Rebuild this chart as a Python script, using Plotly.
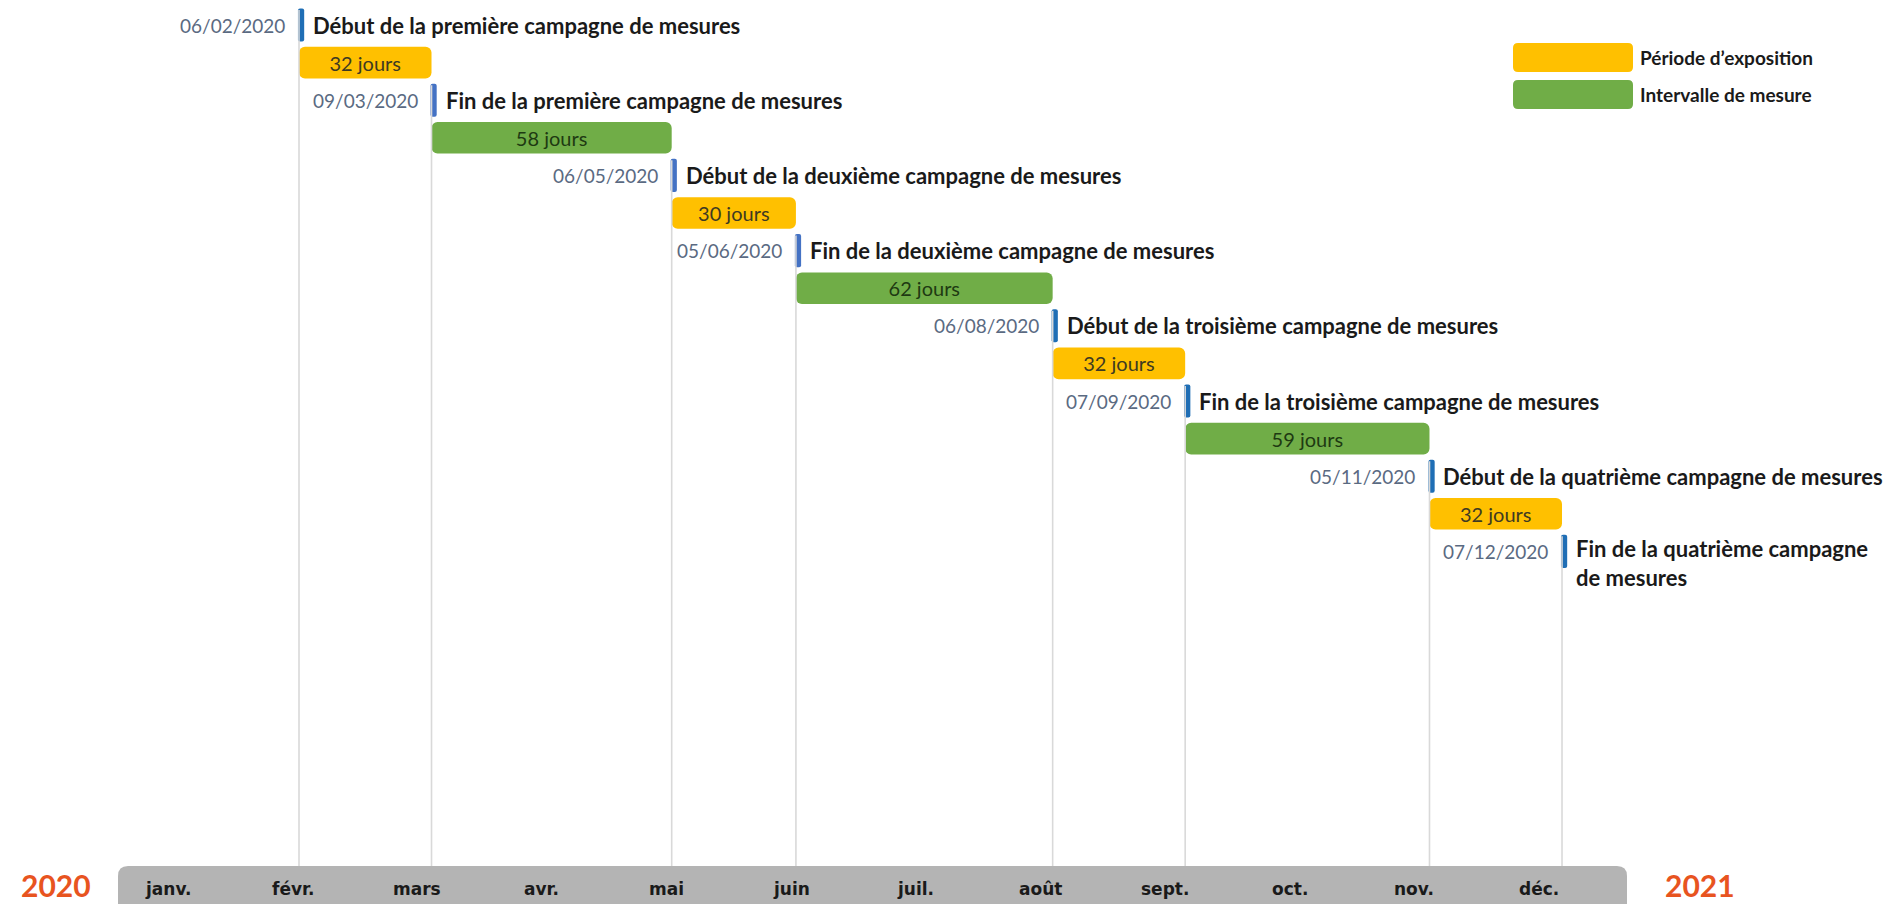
import plotly.graph_objects as go
import pandas as pd

# ---------------- data ----------------
event_dates = ["2020-02-06", "2020-03-09", "2020-05-06", "2020-06-05",
               "2020-08-06", "2020-09-07", "2020-11-05", "2020-12-07"]
event_date_labels = ["06/02/2020", "09/03/2020", "06/05/2020", "05/06/2020",
                     "06/08/2020", "07/09/2020", "05/11/2020", "07/12/2020"]
event_labels = ["Début de la première campagne de mesures",
                "Fin de la première campagne de mesures",
                "Début de la deuxième campagne de mesures",
                "Fin de la deuxième campagne de mesures",
                "Début de la troisième campagne de mesures",
                "Fin de la troisième campagne de mesures",
                "Début de la quatrième campagne de mesures",
                "Fin de la quatrième campagne<br>de mesures"]
period_days = [32, 58, 30, 62, 32, 59, 32]
period_types = ["Période d’exposition", "Intervalle de mesure",
                "Période d’exposition", "Intervalle de mesure",
                "Période d’exposition", "Intervalle de mesure",
                "Période d’exposition"]
months = ["janv.", "févr.", "mars", "avr.", "mai", "juin",
          "juil.", "août", "sept.", "oct.", "nov.", "déc."]
years = ["2020", "2021"]
legend_items = ["Période d’exposition", "Intervalle de mesure"]

# ---------------- style / layout constants ----------------
W, H = 1903, 904
FONT = "Lato"
YELLOW, GREEN = "#FFC000", "#70AD47"
TYPE_COLOR = {"Période d’exposition": YELLOW, "Intervalle de mesure": GREEN}
TYPE_TEXT = {"Période d’exposition": "#3E3A22", "Intervalle de mesure": "#1E3A12"}
MARK_COLORS = ["#1F6EB5", "#4472C4", "#4472C4", "#4472C4",
               "#1F6EB5", "#1F6EB5", "#1F6EB5", "#1F6EB5"]
DAY_MS = 86400000

PX_PER_DAY = 4.141
JAN1_PX = 299 - 36 * PX_PER_DAY
ROW0_PX, ROW_PX = 25.0, 37.6
AXIS_TOP_PX = 866

jan1 = pd.Timestamp("2020-01-01")
x_range = [jan1 - pd.Timedelta(days=JAN1_PX / PX_PER_DAY),
           jan1 + pd.Timedelta(days=(W - JAN1_PX) / PX_PER_DAY)]
y_range = [(H - ROW0_PX) / ROW_PX, -ROW0_PX / ROW_PX]
axis_top_row = (AXIS_TOP_PX - ROW0_PX) / ROW_PX

ev = pd.to_datetime(event_dates)
event_rows = [2 * k for k in range(len(event_dates))]
period_rows = [2 * k + 1 for k in range(len(period_days))]

fig = go.Figure()

# vertical guide lines
lx, ly = [], []
for d, r in zip(ev, event_rows):
    lx += [d, d, None]
    ly += [r - 0.4, axis_top_row, None]
fig.add_trace(go.Scatter(x=lx, y=ly, mode="lines",
                         line=dict(color="#D9D9D9", width=1.6),
                         hoverinfo="skip", showlegend=False))

# period bars
fig.add_trace(go.Bar(
    orientation="h",
    base=[ev[k] for k in range(len(period_days))],
    x=[n * DAY_MS for n in period_days],
    y=period_rows,
    width=0.84,
    marker=dict(color=[TYPE_COLOR[t] for t in period_types], line=dict(width=0),
                cornerradius=6),
    text=[f"{n} jours" for n in period_days],
    textposition="inside", insidetextanchor="middle", textangle=0,
    textfont=dict(family=FONT, size=20, color=[TYPE_TEXT[t] for t in period_types]),
    hoverinfo="skip", showlegend=False))

# event markers
fig.add_trace(go.Bar(
    orientation="h",
    base=[d - pd.Timedelta(hours=6) for d in ev],
    x=[1.5 * DAY_MS] * len(ev),
    y=event_rows,
    width=0.88,
    marker=dict(color=MARK_COLORS, line=dict(width=0), cornerradius=2),
    hoverinfo="skip", showlegend=False))

annotations = []
for k, (d, r) in enumerate(zip(ev, event_rows)):
    annotations.append(dict(x=d, y=r, xref="x", yref="y", text=event_date_labels[k],
                            showarrow=False, xanchor="right", yanchor="middle", xshift=-12,
                            font=dict(family=FONT, size=19, color="#5A6A82")))
    last = (k == len(ev) - 1)
    annotations.append(dict(x=d, y=(r - 0.5) if last else r, xref="x", yref="y",
                            text=f"<b>{event_labels[k]}</b>", showarrow=False,
                            xanchor="left", yanchor="top" if last else "middle",
                            align="left", xshift=12,
                            font=dict(family=FONT, size=22, color="#1A1A1A")))

# month labels on the grey timeline bar
for i, m in enumerate(months):
    annotations.append(dict(x=jan1 + pd.Timedelta(days=4.4 + i * 30.09), y=1 - 889 / H,
                            xref="x", yref="paper", text=f"<b>{m}</b>", showarrow=False,
                            xanchor="center", yanchor="middle",
                            font=dict(family="DejaVu Sans", size=17, color="#1A1A1A")))

# years
for yr, px in zip(years, [56, 1700]):
    annotations.append(dict(x=px / W, y=1 - 885 / H, xref="paper", yref="paper",
                            text=f"<b>{yr}</b>", showarrow=False, xanchor="center",
                            yanchor="middle",
                            font=dict(family=FONT, size=30, color="#E8541F")))


def rr_path(x0, y0, x1, y1, r):
    rx, ry = r / W, r / H
    X0, X1 = x0 / W, x1 / W
    Y0, Y1 = 1 - y0 / H, 1 - y1 / H
    return (f"M {X0+rx},{Y0} L {X1-rx},{Y0} Q {X1},{Y0} {X1},{Y0-ry} "
            f"L {X1},{Y1+ry} Q {X1},{Y1} {X1-rx},{Y1} L {X0+rx},{Y1} "
            f"Q {X0},{Y1} {X0},{Y1+ry} L {X0},{Y0-ry} Q {X0},{Y0} {X0+rx},{Y0} Z")


shapes = [dict(type="path", xref="paper", yref="paper",
               path=rr_path(118, AXIS_TOP_PX, 1627, H + 20, 10),
               fillcolor="#B4B4B4", line=dict(width=0), layer="below")]

# legend
for i, item in enumerate(legend_items):
    y0 = 43 + i * 37
    shapes.append(dict(type="path", xref="paper", yref="paper",
                       path=rr_path(1513, y0, 1633, y0 + 29, 5),
                       fillcolor=TYPE_COLOR[item], line=dict(width=0)))
    annotations.append(dict(x=1638 / W, y=1 - (y0 + 14.5) / H, xref="paper", yref="paper",
                            text=f"<b>{item}</b>", showarrow=False, xanchor="left",
                            yanchor="middle",
                            font=dict(family=FONT, size=19, color="#1A1A1A")))

fig.update_layout(
    width=W, height=H,
    margin=dict(l=0, r=0, t=0, b=0),
    paper_bgcolor="white", plot_bgcolor="white",
    barmode="overlay",
    xaxis=dict(type="date", range=x_range, visible=False, fixedrange=True),
    yaxis=dict(range=y_range, visible=False, fixedrange=True),
    annotations=annotations, shapes=shapes,
    showlegend=False,
)

fig.write_html("out.html", config={"displayModeBar": False},
               post_script="document.body.style.margin='0';document.body.style.overflow='hidden';")
